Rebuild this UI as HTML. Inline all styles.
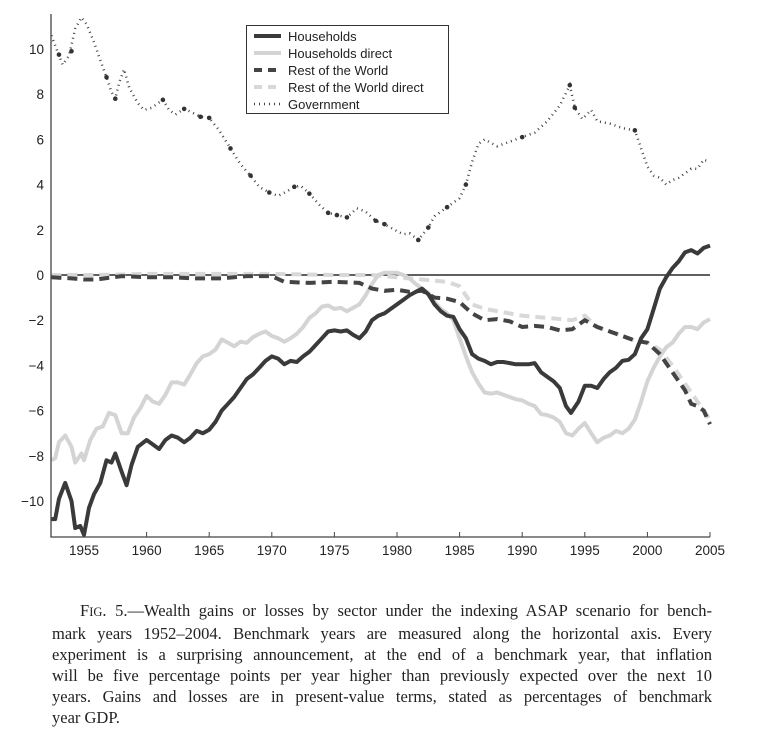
<!DOCTYPE html>
<html><head><meta charset="utf-8"><style>
body{margin:0;background:#fff;width:768px;height:743px;overflow:hidden;position:relative}
svg{position:absolute;left:0;top:0}
.cap{position:absolute;left:52px;width:660px;font-family:"Liberation Serif",serif;font-size:16.5px;color:#222;line-height:21px}
.cap div{text-align:justify;text-align-last:justify;white-space:nowrap}
.cap div.last{text-align-last:left}
</style></head><body>
<svg id="chart" width="768" height="600"></svg>
<div class="cap" style="top:600px">
<div style="padding-left:28px;white-space:normal">F<span style="font-size:12.5px">IG</span>. 5.—Wealth gains or losses by sector under the indexing ASAP scenario for bench-</div>
<div>mark years 1952–2004. Benchmark years are measured along the horizontal axis. Every</div>
<div>experiment is a surprising announcement, at the end of a benchmark year, that inflation</div>
<div>will be five percentage points per year higher than previously expected over the next 10</div>
<div>years. Gains and losses are in present-value terms, stated as percentages of benchmark</div>
<div class="last">year GDP.</div>
</div>
<script>
const xTicks=[1955,1960,1965,1970,1975,1980,1985,1990,1995,2000,2005];
const yTicks=[-10,-8,-6,-4,-2,0,2,4,6,8,10];
const hhYears=[1952.4,1952.7,1953,1953.5,1954,1954.3,1954.7,1955,1955.4,1955.8,1956.3,1956.8,1957.2,1957.5,1958,1958.4,1958.8,1959.3,1960,1960.5,1961,1961.5,1962,1962.5,1963,1963.5,1964,1964.5,1965,1965.5,1966,1966.5,1967,1967.5,1968,1968.5,1969,1969.5,1970,1970.5,1971,1971.5,1972,1972.5,1973,1973.5,1974,1974.5,1975,1975.5,1976,1976.5,1977,1977.5,1978,1978.5,1979,1979.5,1980,1980.5,1981,1981.5,1982,1982.5,1983,1983.5,1984,1984.5,1985,1985.5,1986,1986.5,1987,1987.5,1988,1988.5,1989,1989.5,1990,1990.5,1991,1991.5,1992,1992.5,1993,1993.5,1993.9,1994.5,1995,1995.5,1996,1996.5,1997,1997.5,1998,1998.5,1999,1999.5,2000,2000.5,2001,2001.5,2002,2002.5,2003,2003.5,2004,2004.5,2005];
const hhVals=[-10.8,-10.8,-9.9,-9.2,-10,-11.2,-11.1,-11.5,-10.3,-9.7,-9.2,-8.2,-8.3,-7.9,-8.7,-9.3,-8.4,-7.6,-7.3,-7.5,-7.7,-7.3,-7.1,-7.2,-7.4,-7.2,-6.9,-7.0,-6.85,-6.5,-6.0,-5.7,-5.4,-5.0,-4.6,-4.4,-4.1,-3.8,-3.6,-3.7,-3.95,-3.8,-3.85,-3.6,-3.4,-3.1,-2.8,-2.5,-2.45,-2.5,-2.45,-2.65,-2.8,-2.5,-2.0,-1.8,-1.7,-1.5,-1.3,-1.1,-0.9,-0.75,-0.6,-0.85,-1.3,-1.6,-1.8,-1.85,-2.4,-2.8,-3.5,-3.7,-3.8,-3.95,-3.85,-3.85,-3.9,-3.95,-3.95,-3.95,-3.9,-4.3,-4.5,-4.7,-5.0,-5.8,-6.1,-5.6,-4.9,-4.9,-5.0,-4.6,-4.3,-4.1,-3.8,-3.75,-3.5,-2.8,-2.4,-1.5,-0.6,-0.1,0.3,0.6,1.0,1.1,0.95,1.2,1.3];
const hhdYears=[1952.4,1952.7,1953,1953.5,1954,1954.3,1954.8,1955,1955.5,1956,1956.5,1957,1957.5,1958,1958.5,1959,1959.5,1960,1960.5,1961,1961.5,1962,1962.5,1963,1963.5,1964,1964.5,1965,1965.5,1966,1966.5,1967,1967.5,1968,1968.5,1969,1969.5,1970,1970.5,1971,1971.5,1972,1972.5,1973,1973.5,1974,1974.5,1975,1975.5,1976,1976.5,1977,1977.5,1978,1978.5,1979,1979.5,1980,1980.5,1981,1981.5,1982,1982.5,1983,1983.5,1984,1984.5,1985,1985.5,1986,1986.5,1987,1987.5,1988,1988.5,1989,1989.5,1990,1990.5,1991,1991.5,1992,1992.5,1993,1993.5,1994,1994.5,1995,1995.5,1996,1996.5,1997,1997.5,1998,1998.5,1999,1999.5,2000,2000.5,2001,2001.5,2002,2002.5,2003,2003.5,2004,2004.5,2005];
const hhdVals=[-8.2,-8.1,-7.4,-7.1,-7.6,-8.3,-7.9,-8.2,-7.3,-6.8,-6.7,-6.1,-6.2,-7.0,-7.0,-6.3,-5.9,-5.35,-5.6,-5.7,-5.3,-4.75,-4.75,-4.85,-4.4,-3.9,-3.6,-3.5,-3.3,-2.85,-3.0,-3.15,-2.95,-3.0,-2.75,-2.6,-2.5,-2.7,-2.8,-2.95,-2.8,-2.6,-2.3,-1.9,-1.7,-1.4,-1.35,-1.5,-1.45,-1.6,-1.45,-1.3,-0.9,-0.4,0.0,0.1,0.1,0.1,0.0,-0.15,-0.4,-0.6,-0.8,-1.2,-1.5,-1.7,-2.0,-2.8,-3.6,-4.3,-4.8,-5.2,-5.25,-5.2,-5.3,-5.4,-5.5,-5.55,-5.7,-5.8,-6.15,-6.2,-6.3,-6.5,-7.0,-7.1,-6.8,-6.55,-7.0,-7.4,-7.2,-7.1,-6.9,-7.0,-6.8,-6.4,-5.6,-4.7,-4.1,-3.6,-3.2,-3.0,-2.6,-2.3,-2.3,-2.4,-2.1,-1.95];
const rowYears=[1952.4,1954,1955,1956,1958,1960,1962,1964,1966,1968,1970,1971,1973,1975,1977,1978,1979,1980,1981,1982,1983,1984,1985,1986,1987,1988,1989,1990,1991,1992,1993,1994,1995,1996,1997,1998,1999,2000,2001,2002,2003,2003.5,2004,2004.5,2005];
const rowVals=[-0.1,-0.15,-0.2,-0.2,-0.05,-0.1,-0.1,-0.15,-0.15,-0.05,-0.05,-0.3,-0.35,-0.3,-0.35,-0.6,-0.7,-0.65,-0.75,-0.7,-1.0,-1.05,-1.2,-1.7,-2.0,-1.95,-2.05,-2.3,-2.25,-2.3,-2.45,-2.4,-2.0,-2.3,-2.5,-2.7,-2.9,-3.0,-3.5,-4.3,-5.1,-5.7,-5.8,-6.0,-6.6];
const rowdYears=[1952.4,1956,1960,1965,1970,1975,1978,1980,1982,1984,1985,1986,1987,1988,1990,1992,1994,1995,1996,1997,1998,1999,2000,2001,2002,2003,2004,2005];
const rowdVals=[0.0,0.0,0.05,0.05,0.05,0.0,0.0,-0.1,-0.2,-0.3,-0.5,-1.3,-1.5,-1.6,-1.8,-1.9,-2.0,-1.8,-2.3,-2.5,-2.7,-2.9,-3.0,-3.3,-4.0,-4.8,-5.6,-6.4];
const govYears=[1952.4,1952.8,1953.3,1953.8,1954.3,1954.8,1955.2,1955.8,1956.3,1956.8,1957.2,1957.5,1957.8,1958.2,1958.6,1959.3,1959.8,1960.4,1961.3,1961.8,1962.3,1963,1963.6,1964.3,1965,1965.8,1966.7,1967.5,1968.3,1969,1969.8,1970.5,1971.2,1971.8,1972.3,1973,1973.8,1974.5,1975.2,1976,1976.8,1977.5,1978.3,1979,1979.8,1980.5,1981,1981.7,1982.5,1983,1984,1985,1985.5,1986,1986.5,1987,1988,1989,1990,1991,1992,1993,1993.8,1994.2,1994.8,1995.5,1996,1997,1998,1999,1999.5,2000,2000.5,2001,2001.5,2002,2002.5,2003,2003.5,2004,2004.5,2005];
const govVals=[10.6,10.0,9.3,9.7,10.9,11.4,11.1,10.3,9.5,8.75,8.1,7.8,8.5,9.1,8.3,7.6,7.3,7.4,7.75,7.3,7.1,7.35,7.2,7.0,6.95,6.4,5.6,4.9,4.4,3.9,3.65,3.5,3.7,3.9,3.95,3.6,3.1,2.75,2.65,2.55,2.95,2.8,2.4,2.25,2.0,1.8,1.85,1.55,2.1,2.6,3.0,3.4,4.0,5.0,5.8,6.0,5.7,5.9,6.1,6.3,6.8,7.5,8.4,7.4,6.9,7.3,6.8,6.7,6.5,6.4,5.6,4.8,4.4,4.3,4.0,4.2,4.3,4.5,4.7,4.7,5.1,5.0];
const govDotYears=[1953,1954,1956.8,1957.5,1961.3,1963,1964.3,1965,1966.7,1968.3,1969.8,1971.8,1973,1974.5,1975.2,1976,1978.3,1979,1981.7,1982.5,1984,1985.5,1990,1993.8,1994.2,1999];
const govDotVals=[9.75,9.9,8.75,7.8,7.75,7.35,7.0,6.95,5.6,4.4,3.65,3.9,3.6,2.75,2.65,2.55,2.4,2.25,1.55,2.1,3.0,4.0,6.1,8.4,7.4,6.4];

const NS='http://www.w3.org/2000/svg';
const svg=document.getElementById('chart');
const X0=51,X1=710,Y0=537,Y1=14;
const xScale=y=>84+(y-1955)*12.52;
const yScale=v=>275-v*22.6;
function mk(tag,attrs,parent){const e=document.createElementNS(NS,tag);for(const k in attrs)e.setAttribute(k,attrs[k]);(parent||svg).appendChild(e);return e;}
function pathD(xs,vs){return xs.map((x,i)=>(i?'L':'M')+xScale(x).toFixed(1)+' '+yScale(vs[i]).toFixed(1)).join(' ');}

const clip=mk('clipPath',{id:'cp'});mk('rect',{x:X0,y:Y1,width:X1-X0+4,height:Y0-Y1},clip);
const z=mk('line',{x1:X0,x2:X1,y1:yScale(0),y2:yScale(0),stroke:'#000','stroke-width':1.2});


const g=mk('g',{'clip-path':'url(#cp)'});
const series=[
 {xs:rowdYears,vs:rowdVals,st:{stroke:'#d8d8d8','stroke-width':4,'stroke-dasharray':'10 6',fill:'none'},n:'series-rest-of-world-direct'},
 {xs:hhdYears,vs:hhdVals,st:{stroke:'#d4d4d4','stroke-width':4,fill:'none','stroke-linejoin':'round'},n:'series-households-direct'},
 {xs:rowYears,vs:rowVals,st:{stroke:'#444','stroke-width':4,'stroke-dasharray':'10 6',fill:'none'},n:'series-rest-of-world'},
 {xs:hhYears,vs:hhVals,st:{stroke:'#3a3a3a','stroke-width':4,fill:'none','stroke-linejoin':'round'},n:'series-households'},
 {xs:govYears,vs:govVals,st:{stroke:'#444','stroke-width':2.5,'stroke-dasharray':'1 4',fill:'none'},n:'series-government'}
];
series.forEach(s=>{const a=Object.assign({d:pathD(s.xs,s.vs)},s.st);const p=mk('path',a,g);

});
govDotYears.forEach((yr,i)=>{const c=mk('circle',{cx:xScale(yr),cy:yScale(govDotVals[i]),r:2.3,fill:'#333'},g);

});
const ax=mk('path',{d:`M${X0} ${Y1} L${X0} ${Y0} L${X1} ${Y0}`,stroke:'#444','stroke-width':1.3,fill:'none'});


xTicks.forEach(t=>{const x=xScale(t);mk('line',{x1:x,x2:x,y1:Y0,y2:Y0-5,stroke:'#444','stroke-width':1});
const tx=mk('text',{x:x,y:Y0+18,'text-anchor':'middle','font-family':'Liberation Sans, sans-serif','font-size':13.5,fill:'#222'});tx.textContent=t;

});
yTicks.forEach(t=>{const tx=mk('text',{x:44,y:yScale(t)+5,'text-anchor':'end','font-family':'Liberation Sans, sans-serif','font-size':13.5,fill:'#222'});tx.textContent=(t<0?'\u2212'+(-t):t);

});
const lg=mk('g',{});


mk('rect',{x:246.5,y:25.5,width:202,height:88,fill:'#fff',stroke:'#333','stroke-width':1},lg);
const leg=[['Households',{stroke:'#3a3a3a','stroke-width':4}],['Households direct',{stroke:'#d4d4d4','stroke-width':4}],['Rest of the World',{stroke:'#444','stroke-width':4,'stroke-dasharray':'8 6'}],['Rest of the World direct',{stroke:'#d8d8d8','stroke-width':4,'stroke-dasharray':'8 6'}],['Government',{stroke:'#444','stroke-width':2.5,'stroke-dasharray':'1 4'}]];
leg.forEach((l,i)=>{const y=36+i*17;const ent=mk('g',{},lg);


mk('line',Object.assign({x1:254,x2:281,y1:y,y2:y},l[1]),ent);
const t=mk('text',{x:288,y:y+5,'font-family':'Liberation Sans, sans-serif','font-size':13,fill:'#222'},ent);t.textContent=l[0];});
</script>
</body></html>
